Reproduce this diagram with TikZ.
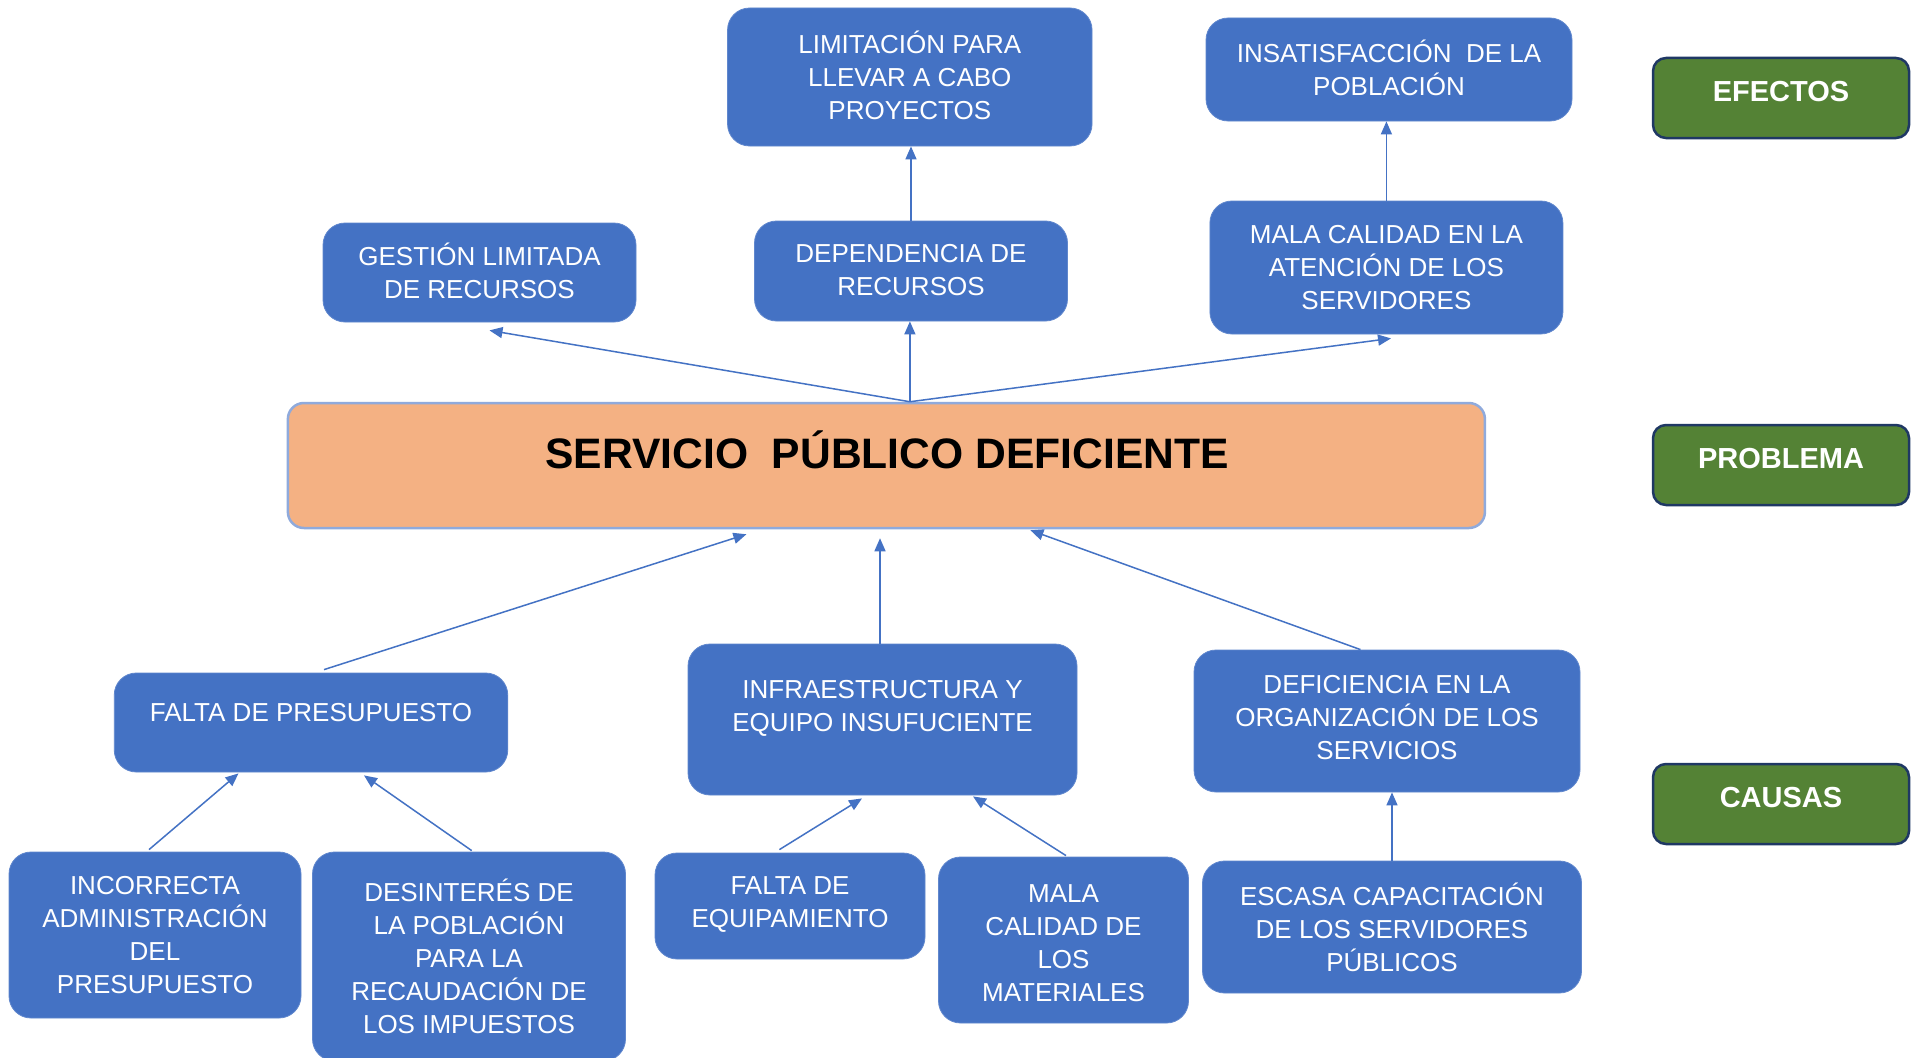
\documentclass[tikz,border=0pt]{standalone}
\usepackage{fontspec}
\setmainfont{Liberation Sans}
\usetikzlibrary{arrows.meta,calc}
\definecolor{bluebox}{HTML}{4472C4}
\definecolor{greenbox}{HTML}{548235}
\definecolor{navy}{HTML}{1F3864}
\definecolor{orangebox}{HTML}{F4B183}
\definecolor{lightblue}{HTML}{8FAADC}
\tikzset{
 bbox/.style={fill=bluebox, draw=bluebox!85!white, line width=0.8pt, rounded corners=22pt, inner sep=0pt},
 btxt/.style={text=white, align=center, font=\fontsize{26}{33}\selectfont, inner sep=0pt},
 gbox/.style={fill=greenbox, draw=navy, line width=2.5pt, rounded corners=13pt, minimum width=256pt, minimum height=80pt, inner sep=0pt},
 gtxt/.style={text=white, font=\bfseries\fontsize{29}{35}\selectfont, inner sep=0pt, text height=21pt, text depth=0pt},
 conn/.style={draw=bluebox, line width=1.5pt, -{Triangle[length=13pt,width=11pt]}},
}
\begin{document}
\begin{tikzpicture}[x=1pt,y=-1pt]
\useasboundingbox[fill=white] (0,0) rectangle (1918,1057);

% effects
\node[bbox, minimum width=364.5pt, minimum height=138pt] (lim) at (909.8,77) {};
\node[btxt] (lim-t) at ($(lim.center)+(0,-2)$) {LIMITACIÓN PARA\\LLEVAR A CABO\\PROYECTOS};
\node[bbox, minimum width=366pt, minimum height=103pt] (ins) at (1389,69.5) {};
\node[btxt] (ins-t) at ($(ins.center)+(0,-2)$) {INSATISFACCIÓN\ \ DE LA\\POBLACIÓN};
\node[bbox, minimum width=313pt, minimum height=99pt] (gest) at (479.5,272.5) {};
\node[btxt] (gest-t) at ($(gest.center)+(0,-2)$) {GESTIÓN LIMITADA\\DE RECURSOS};
\node[bbox, minimum width=313pt, minimum height=100pt] (dep) at (911,271) {};
\node[btxt] (dep-t) at ($(dep.center)+(0,-1)$) {DEPENDENCIA DE\\RECURSOS};
\node[bbox, minimum width=353pt, minimum height=133pt] (mala) at (1386.4,267.5) {};
\node[btxt] (mala-t) at (mala.center) {MALA CALIDAD EN LA\\ATENCIÓN DE LOS\\SERVIDORES};

% problem
\node[fill=orangebox, draw=lightblue, line width=2.5pt, rounded corners=16pt, minimum width=1197pt, minimum height=125pt, inner sep=0pt] (prob) at (886.4,465.5) {};
\node[inner sep=0pt, font=\bfseries\fontsize{42.6}{50}\selectfont, text height=30.5pt, text depth=0pt] (prob-t) at ($(prob.center)+(0.6,-12)$) {SERVICIO\ \ PÚBLICO DEFICIENTE};

% causes
\node[bbox, minimum width=393.5pt, minimum height=99pt] (fp) at (311,722.5) {};
\node[btxt] (fp-t) at ($(fp.center)+(0,-10)$) {FALTA DE PRESUPUESTO};
\node[bbox, minimum width=389pt, minimum height=151pt] (infra) at (882.5,719.5) {};
\node[btxt] (infra-t) at ($(infra.center)+(0,-11)$) {INFRAESTRUCTURA Y\\EQUIPO INSUFUCIENTE};
\node[bbox, minimum width=386pt, minimum height=142pt] (defi) at (1387,721) {};
\node[btxt] (defi-t) at ($(defi.center)+(0,-3)$) {DEFICIENCIA EN LA\\ORGANIZACIÓN DE LOS\\SERVICIOS};

\node[bbox, minimum width=292pt, minimum height=166pt] (inc) at (155,935) {};
\node[btxt] (inc-t) at (inc.center) {INCORRECTA\\ADMINISTRACIÓN\\DEL\\PRESUPUESTO};
\node[bbox, minimum width=313pt, minimum height=209pt] (des) at (469,956.5) {};
\node[btxt] (des-t) at (des.center) {DESINTERÉS DE\\LA POBLACIÓN\\PARA LA\\RECAUDACIÓN DE\\LOS IMPUESTOS};
\node[bbox, minimum width=270pt, minimum height=106pt] (feq) at (790,906) {};
\node[btxt] (feq-t) at ($(feq.center)+(0,-2)$) {FALTA DE\\EQUIPAMIENTO};
\node[bbox, minimum width=250pt, minimum height=166pt] (mat) at (1063.5,940) {};
\node[btxt] (mat-t) at ($(mat.center)+(0,3)$) {MALA\\CALIDAD DE\\LOS\\MATERIALES};
\node[bbox, minimum width=379pt, minimum height=132pt] (esc) at (1392,927) {};
\node[btxt] (esc-t) at (esc.center) {ESCASA CAPACITACIÓN\\DE LOS SERVIDORES\\PÚBLICOS};

% side labels
\node[gbox] (efe) at (1781,98) {};
\node[gtxt] (efe-t) at ($(efe.center)+(0,-7)$) {EFECTOS};
\node[gbox] (probl) at (1781,465) {};
\node[gtxt] (probl-t) at ($(probl.center)+(0,-7)$) {PROBLEMA};
\node[gbox] (caus) at (1781,804) {};
\node[gtxt] (caus-t) at ($(caus.center)+(0,-7)$) {CAUSAS};

% connectors
\coordinate (ptop) at ($(prob.north)+(23.5,0)$);
\coordinate (pbot) at ($(prob.south)+(0,9)$);
\draw[conn] (dep.north) -- (dep.north |- lim.south);
\draw[conn] (mala.north) -- (mala.north |- ins.south);
\draw[conn] (ptop) -- ($(gest.south)+(10,8)$);
\draw[conn] (ptop) -- (ptop |- dep.south);
\draw[conn] (ptop) -- ($(mala.south)+(4.6,4)$);
\draw[conn] ($(fp.north)+(13,-3)$) -- ($(prob.south)+(-140,5)$);
\draw[conn] ($(infra.north)+(-2.5,0)$) -- ($(infra.north |- pbot)+(-2.5,0)$);
\draw[conn] ($(defi.north)+(-26.5,0)$) -- ($(prob.south)+(144,1)$);
\draw[conn] ($(inc.north)+(-6,-2)$) -- ($(fp.south)+(-72.5,1)$);
\draw[conn] ($(des.north)+(2.7,-1)$) -- ($(fp.south)+(53,3)$);
\draw[conn] ($(feq.north)+(-10.6,-3)$) -- ($(infra.south)+(-20.5,3)$);
\draw[conn] ($(mat.north)+(2.5,-1)$) -- ($(infra.south)+(90.5,1)$);
\draw[conn] (esc.north) -- (esc.north |- defi.south);
\end{tikzpicture}
\end{document}
